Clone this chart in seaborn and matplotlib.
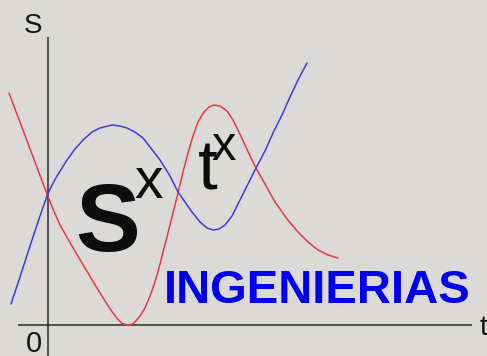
import matplotlib
matplotlib.use("Agg")
import matplotlib.pyplot as plt
import seaborn as sns
import pandas as pd

# ---- data (origin at the axes crossing) ----
blue_t = [-1.85, -1.40, -0.80, -0.40, -0.03, 0.20, 0.45, 0.95, 1.35, 1.75, 2.20, 2.60, 3.20,
          3.60, 3.95, 4.35, 4.75, 5.10, 5.60, 6.10, 6.50, 6.85, 7.20, 7.60, 7.95,
          8.25, 8.55, 8.85, 9.20, 9.50, 9.85, 10.15, 10.40, 10.85, 11.25, 11.70,
          12.10, 12.50, 12.95]
blue_s = [1.05, 2.40, 4.25, 5.45, 6.50, 7.00, 7.45, 8.25, 8.80, 9.25, 9.65, 9.85, 10.00,
          9.95, 9.85, 9.65, 9.35, 8.90, 8.25, 7.45, 6.65, 6.15, 5.65, 5.15, 4.85,
          4.75, 4.80, 5.00, 5.45, 6.05, 6.75, 7.35, 7.85, 8.70, 9.60, 10.50,
          11.40, 12.25, 13.10]

red_t = [-1.95, -1.40, -0.75, -0.40, -0.03, 0.30, 0.60, 0.90, 1.20, 1.60, 2.00, 2.40,
         2.85, 3.15, 3.45, 3.70, 3.95, 4.20, 4.35, 4.60, 4.85, 5.10, 5.35, 5.55,
         5.75, 5.95, 6.10, 6.30, 6.50, 6.75, 7.00, 7.25, 7.50, 7.80, 8.05, 8.30,
         8.60, 8.95, 9.25, 9.50, 9.85, 10.15, 10.40, 10.85, 11.35, 11.95, 12.50,
         13.00, 13.50, 14.00, 14.50]
red_s = [11.60, 10.14, 8.41, 7.48, 6.50, 5.68, 5.00, 4.47, 3.95, 3.27, 2.60, 1.93,
         1.20, 0.74, 0.33, 0.08, 0.00, 0.03, 0.15, 0.45, 0.85, 1.45, 2.15, 2.85,
         3.65, 4.40, 5.00, 5.80, 6.60, 7.65, 8.60, 9.45, 10.15, 10.65, 10.90, 11.00,
         10.95, 10.70, 10.25, 9.75, 9.00, 8.35, 7.85, 7.05, 6.15, 5.30, 4.65,
         4.15, 3.75, 3.50, 3.35]

axis_labels = ["S", "t", "0"]
title_text = "INGENIERIAS"

# ---- style ----
sns.set_theme(style="white")
plt.rcParams["font.family"] = ["Liberation Sans", "DejaVu Sans"]

bg = "#dcdad6"
fig = plt.figure(figsize=(4.87, 3.56), dpi=100, facecolor=bg)
ax = fig.add_axes([0, 0, 1, 1])
ax.set_facecolor(bg)
ax.set_xlim(-2.4, 21.95)
ax.set_ylim(-1.55, 16.25)
ax.set_axis_off()

# axes lines
ax.vlines(0, -1.55, 14.4, color="#2a2a2a", lw=1.1, zorder=1)
ax.hlines(0, -1.5, 21.2, color="#2a2a2a", lw=1.1, zorder=1)

blue_df = pd.DataFrame({"t": blue_t, "s": blue_s})
red_df = pd.DataFrame({"t": red_t, "s": red_s})
sns.lineplot(data=red_df, x="t", y="s", ax=ax, color="#e63a3f", lw=1.1,
             sort=False, estimator=None, zorder=2)
sns.lineplot(data=blue_df, x="t", y="s", ax=ax, color="#3c3cdc", lw=1.1,
             sort=False, estimator=None, zorder=2)

# axis labels
ax.text(-0.75, 14.6, axis_labels[0], fontsize=20, color="#151515",
        ha="center", va="baseline")
ax.text(21.6, -0.5, axis_labels[1], fontsize=20.5, color="#151515",
        ha="left", va="baseline")
ax.text(-0.7, -1.35, axis_labels[2], fontsize=21, color="#151515",
        ha="center", va="baseline")

# big S^x and t^x
ax.text(2.98, 3.7, "S", fontsize=70, fontweight="bold", color="#0d0d0d",
        ha="center", va="baseline", zorder=3)
ax.text(5.05, 6.35, "x", fontsize=41, color="#0d0d0d",
        ha="center", va="baseline", zorder=3)
ax.text(8.0, 6.75, "t", fontsize=51, color="#0d0d0d",
        ha="center", va="baseline", zorder=3)
ax.text(8.8, 8.25, "x", fontsize=35, color="#0d0d0d",
        ha="center", va="baseline", zorder=3)

ax.text(13.475, 1.1, title_text, fontsize=34, fontweight="bold", color="#0000ee",
        ha="center", va="baseline", zorder=3)

fig.savefig("out.png", dpi=100, facecolor=bg)
